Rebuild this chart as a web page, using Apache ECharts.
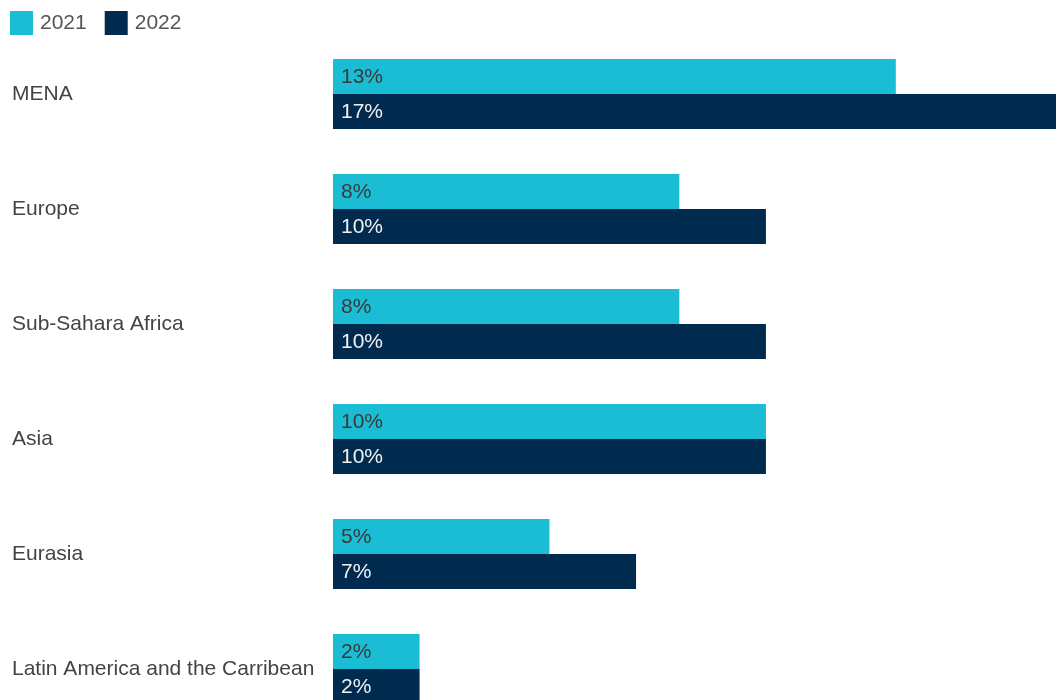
<!DOCTYPE html>
<html>
<head>
<meta charset="utf-8">
<script src="https://cdn.jsdelivr.net/npm/echarts@6/dist/echarts.min.js"></script>
<style>
  html, body { margin: 0; padding: 0; background: #fff; overflow: hidden; }
  /* the plot continues a little below the visible 700px window */
  #chart { width: 1056px; height: 727px; }
</style>
</head>
<body>
<div id="chart"></div>
<script>
// Regions, top to bottom
const regions = ['MENA', 'Europe', 'Sub-Sahara Africa', 'Asia', 'Eurasia', 'Latin America and the Carribean'];
// Share per region (%)
const values2021 = [13, 8, 8, 10, 5, 2];
const values2022 = [17, 10, 10, 10, 7, 2];
const seriesNames = ['2021', '2022'];

const chart = echarts.init(document.getElementById('chart'), null, { renderer: 'canvas' });

const FONT = 21;

chart.setOption({
  animation: false,
  backgroundColor: '#ffffff',
  textStyle: { fontFamily: 'Liberation Sans, Arial, sans-serif' },
  legend: {
    left: 10,
    top: 11,
    padding: 0,
    itemWidth: 23,
    itemHeight: 24,
    itemGap: 18,
    icon: 'rect',
    textStyle: { fontSize: FONT, color: '#555555', padding: [0, 0, 0, 2] },
    data: seriesNames
  },
  grid: {
    left: 333,
    right: 0,
    top: 36.5,
    height: 690,
    containLabel: false
  },
  xAxis: {
    type: 'value',
    min: 0,
    max: 16.7,
    show: false
  },
  yAxis: {
    type: 'category',
    data: regions,
    inverse: true,
    axisLine: { show: false },
    axisTick: { show: false },
    splitLine: { show: false },
    axisLabel: {
      align: 'left',
      margin: 321,
      fontSize: FONT,
      color: '#444444',
      padding: [3, 0, 0, 0]
    }
  },
  series: [
    {
      name: seriesNames[0],
      type: 'bar',
      data: values2021,
      barWidth: 35,
      barGap: '0%',
      itemStyle: { color: '#1bbdd4' },
      label: {
        show: true,
        position: 'insideLeft',
        distance: 8,
        offset: [0, 1],
        formatter: '{c}%',
        fontSize: FONT,
        color: '#3a3a3a'
      }
    },
    {
      name: seriesNames[1],
      type: 'bar',
      data: values2022,
      barWidth: 35,
      barGap: '0%',
      itemStyle: { color: '#012a4f' },
      label: {
        show: true,
        position: 'insideLeft',
        distance: 8,
        offset: [0, 1],
        formatter: '{c}%',
        fontSize: FONT,
        color: '#f0f0f0'
      }
    }
  ]
});
</script>
</body>
</html>
